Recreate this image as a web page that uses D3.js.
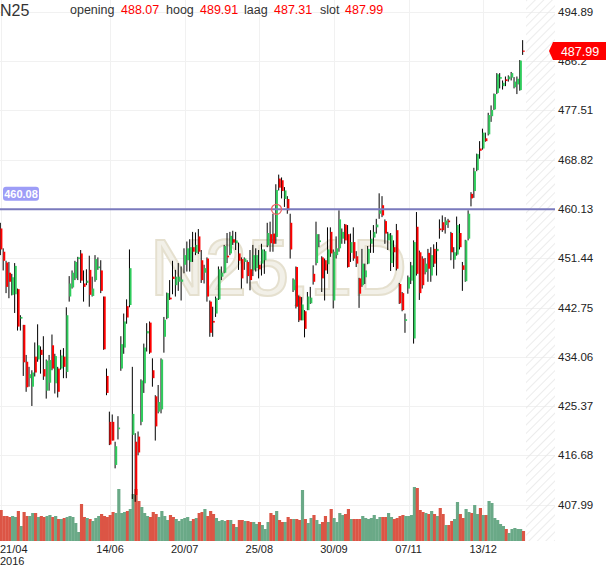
<!DOCTYPE html>
<html>
<head>
<meta charset="utf-8">
<script src="https://cdn.jsdelivr.net/npm/d3@7"></script>
<style>
  body { margin: 0; background: #fff; }
  text { font-family: "Liberation Sans", Arial, sans-serif; }
</style>
</head>
<body>
<div id="chart"></div>
<script>
// Daily candles N25, 21/04/2016 - 30/12/2016
const opens = [
  456.7,452.6,450.7,448.9,445.0,445.1,446.0,440.8,439.7,433.2,
  430.3,428.8,434.1,433.6,435.3,431.9,428.1,429.5,436.1,429.4,
  432.0,432.0,434.1,431.4,444.7,446.3,447.9,451.3,452.3,447.0,
  447.1,449.4,444.8,447.6,449.7,449.3,444.7,430.7,422.6,422.6,
  415.0,421.3,432.0,435.7,443.0,443.2,420.3,419.1,420.0,422.6,
  429.4,438.2,440.1,431.7,427.1,424.4,424.8,437.6,440.9,444.5,
  448.2,446.7,447.3,447.3,450.3,451.1,450.8,453.4,452.4,455.3,
  451.1,448.9,451.4,443.8,440.4,441.7,444.2,448.2,448.9,451.9,
  452.3,454.8,454.1,452.3,451.3,450.8,450.8,449.5,449.4,449.7,
  450.3,450.5,451.1,453.7,455.7,455.8,455.2,465.5,465.2,461.9,
  461.9,457.7,445.8,449.9,444.7,440.5,442.1,442.3,443.5,448.7,
  450.6,454.3,451.6,451.1,450.4,456.1,444.0,452.0,453.2,454.9,
  457.4,455.7,452.4,454.3,451.8,447.9,446.7,448.1,450.5,454.0,
  455.1,456.9,459.3,460.8,458.0,454.6,450.6,453.4,456.4,446.9,
  445.3,440.4,446.1,447.5,437.3,457.0,452.5,451.4,449.0,452.4,
  448.4,453.1,452.7,456.7,457.8,457.3,458.1,455.9,451.2,452.1,
  455.9,450.2,447.4,454.9,462.8,463.3,467.0,470.8,470.8,472.6,
  473.3,476.5,477.7,480.6,483.1,481.8,483.0,483.0,483.3,481.6,
  482.1,481.1,488.07
];
const highs = [
  457.7,453.2,451.0,450.8,448.7,450.6,446.1,441.4,439.7,434.4,
  432.3,431.7,436.6,439.8,435.9,437.7,433.6,434.4,438.0,434.6,
  432.3,435.3,435.6,442.8,448.3,449.3,451.0,451.7,452.9,449.3,
  449.5,451.9,448.2,452.0,451.6,451.1,444.7,432.0,424.4,423.9,
  419.1,423.6,437.7,441.7,444.2,453.0,432.3,420.6,420.9,430.1,
  436.4,440.0,440.3,433.8,427.3,429.1,433.8,441.1,445.4,447.6,
  451.0,449.4,450.6,450.0,453.2,454.4,454.8,456.1,456.0,456.6,
  452.9,450.3,451.6,444.0,442.9,444.7,450.0,450.0,453.8,455.9,
  456.1,456.3,456.1,454.2,451.6,451.6,451.1,452.9,453.8,453.2,
  452.9,454.0,453.0,457.7,457.9,459.3,464.5,466.2,465.7,464.0,
  462.4,459.3,447.9,450.0,444.9,444.6,442.3,445.5,446.4,450.2,
  457.9,455.7,451.8,451.4,456.9,456.9,453.0,455.3,459.9,456.7,
  457.5,457.3,455.8,456.9,452.7,448.0,453.1,450.5,453.6,456.4,
  457.3,458.4,462.9,462.4,458.3,456.1,455.9,454.6,457.5,447.1,
  445.5,441.7,448.4,450.8,454.6,459.6,452.8,451.8,451.5,453.1,
  453.4,453.9,454.3,458.3,459.0,458.7,458.4,456.1,453.4,458.8,
  457.5,450.8,454.7,459.9,463.1,467.4,469.9,472.1,474.3,473.6,
  477.1,478.4,480.5,484.1,484.1,482.8,483.5,483.7,484.3,483.4,
  483.5,486.4,489.91
];
const lows = [
  452.0,449.3,445.3,444.4,444.9,441.8,438.7,438.7,430.7,427.9,
  428.8,425.4,430.6,433.2,431.1,430.0,426.7,428.1,431.7,427.6,
  426.9,431.8,430.3,430.3,443.8,446.1,447.6,447.6,447.1,443.8,
  446.7,442.9,444.7,447.3,449.4,445.3,435.3,427.3,418.5,419.3,
  414.4,419.5,431.6,434.6,439.9,442.8,409.0,408.5,416.7,422.0,
  427.7,435.0,434.6,428.8,419.3,424.1,424.1,434.8,440.7,444.1,
  445.1,444.7,445.7,444.0,448.8,449.1,449.1,450.8,452.0,452.2,
  447.1,447.0,443.8,437.6,437.6,441.1,444.1,447.6,448.8,450.6,
  452.0,453.8,452.9,449.4,446.1,449.4,447.0,445.8,448.3,449.1,
  447.9,448.4,448.7,453.4,452.6,452.6,454.0,463.4,462.0,460.5,
  459.3,451.4,445.5,442.6,440.2,440.5,437.5,442.3,443.4,446.8,
  450.2,453.4,445.5,444.0,448.7,451.7,442.6,451.4,452.6,454.0,
  454.0,449.8,450.8,451.0,449.9,442.7,446.4,446.9,450.4,452.4,
  452.4,455.8,458.4,458.7,454.0,452.9,449.2,449.9,449.3,443.4,
  442.1,438.3,445.2,446.9,436.4,448.4,444.1,446.1,448.6,447.3,
  447.3,449.9,448.4,454.9,456.1,455.8,456.8,451.1,449.6,451.9,
  453.0,445.7,447.3,454.6,460.6,462.1,466.8,469.0,470.6,472.0,
  473.1,475.5,477.6,480.4,481.4,481.2,481.8,482.6,482.8,481.4,
  480.4,481.0,487.31
];
const closes = [
  453.0,451.0,446.4,447.3,448.1,450.1,439.4,441.1,433.1,428.7,
  431.0,431.3,431.3,436.1,434.4,430.6,433.4,433.5,432.0,434.2,
  427.9,434.3,432.3,441.4,447.0,448.9,450.8,451.6,447.5,446.4,
  447.5,445.0,446.1,451.3,450.0,445.7,435.4,427.7,418.6,419.3,
  418.3,421.6,436.3,440.3,441.0,449.7,424.0,409.7,417.2,429.9,
  435.7,438.6,434.8,430.3,421.8,426.1,433.6,440.6,445.3,444.2,
  447.8,448.2,448.2,447.7,452.0,453.2,453.4,452.6,453.8,452.6,
  447.6,449.7,444.7,438.3,440.1,444.4,449.5,448.9,453.6,451.6,
  455.4,454.2,454.6,451.0,447.9,451.4,448.3,447.6,452.0,452.0,
  449.5,453.0,452.7,455.9,454.1,454.0,463.5,463.9,463.3,463.4,
  459.9,453.0,447.7,442.9,440.5,443.3,439.0,444.7,444.5,447.3,
  455.7,454.6,447.9,449.3,453.0,452.3,452.6,453.2,458.3,456.1,
  454.6,449.9,454.3,451.4,450.5,445.2,450.5,449.3,453.1,454.9,
  456.1,457.4,459.9,459.0,455.8,455.8,455.5,452.5,449.6,443.5,
  442.3,440.7,448.1,450.2,454.3,448.7,445.3,446.7,450.5,449.6,
  452.0,450.5,453.1,456.4,456.4,458.1,457.8,452.5,452.5,457.3,
  453.4,449.4,454.6,459.3,462.0,466.8,469.8,470.4,473.6,472.1,
  476.7,477.6,480.4,483.9,483.4,482.4,482.7,483.5,484.1,482.6,
  483.1,486.3,487.99
];
// Volume (millions, estimated)
const volumes = [
  31,25,25,24,25,24,30,15,29,25,
  25,28,28,24,25,24,25,26,24,25,
  22,22,23,24,25,24,18,9,37,24,
  23,22,20,23,25,27,25,24,26,29,
  28,52,28,29,30,32,47,52,40,34,
  28,25,24,29,27,24,30,25,21,26,
  24,22,20,22,23,24,20,22,23,28,
  29,32,25,30,27,23,20,21,20,21,
  21,17,14,21,21,20,20,19,19,17,
  19,16,12,19,28,26,30,21,19,19,
  24,22,22,22,21,51,22,18,23,26,
  21,17,19,25,19,32,23,19,28,26,
  27,32,22,22,22,22,25,23,22,23,
  26,22,24,24,24,28,24,22,23,25,
  26,25,25,26,54,53,31,29,28,27,
  30,27,25,33,27,16,16,20,22,39,
  27,23,32,29,28,36,27,33,26,26,
  40,38,23,21,17,15,12,8,12,13,
  12,12,10
];

// Axis ticks
const dateTickIndex = [0, 38, 64, 90, 116, 142, 168];
const dateTickLabels = ["21/04", "14/06", "20/07", "25/08", "30/09", "07/11", "13/12"];
const priceTicks = [407.99, 416.68, 425.37, 434.06, 442.75, 451.44, 460.13, 468.82, 477.51, 486.2, 494.89];

// Header / annotations
const symbol = "N25";
const headerNames = ["opening", "hoog", "laag", "slot"];
const headerValues = ["488.07", "489.91", "487.31", "487.99"];
const lineLevel = 460.08;
const lineAnchorIndex = 96;
const lastPrice = 487.99;

const width = 610;
const height = 568;
const volBottom = 541;
const plotRight = 526;
const axisRight = 555;

const svg = d3.select("#chart")
    .append("svg")
    .attr("width", width)
    .attr("height", height);

// Scales
const x = d3.scaleLinear()
    .domain([0, opens.length - 1])
    .range([1, 1 + 2.87 * (opens.length - 1)]);
const step = x(1) - x(0);

const y = d3.scaleLinear()
    .domain([407.99, 494.89])
    .range([504.7, 11.9]);

const yVol = d3.scaleLinear()
    .domain([0, 60])
    .range([volBottom, volBottom - 60]);

// Hatch pattern for the empty future area
const defs = svg.append("defs");
defs.append("pattern")
    .attr("id", "hatch")
    .attr("width", 6)
    .attr("height", 6)
    .attr("patternUnits", "userSpaceOnUse")
    .attr("patternTransform", "rotate(45)")
    .append("line")
    .attr("x1", 0).attr("y1", 0)
    .attr("x2", 0).attr("y2", 6)
    .attr("stroke", "#e6e6e6")
    .attr("stroke-width", 1.5);

// Grid lines
const grid = svg.append("g").attr("class", "grid");
grid.selectAll(".hgrid")
    .data(priceTicks)
    .enter().append("line")
    .attr("x1", 0).attr("x2", axisRight)
    .attr("y1", d => Math.round(y(d)) + 0.5)
    .attr("y2", d => Math.round(y(d)) + 0.5)
    .attr("stroke", "#f1f1f1");
grid.selectAll(".vgrid")
    .data(dateTickIndex)
    .enter().append("line")
    .attr("x1", d => Math.round(x(d)) + 0.5)
    .attr("x2", d => Math.round(x(d)) + 0.5)
    .attr("y1", 0).attr("y2", volBottom)
    .attr("stroke", "#f1f1f1");

svg.append("rect")
    .attr("x", plotRight).attr("y", 0)
    .attr("width", axisRight - plotRight)
    .attr("height", volBottom)
    .attr("fill", "url(#hatch)");

// Watermark
svg.append("text")
    .attr("x", 150)
    .attr("y", 295)
    .attr("font-size", 80)
    .attr("textLength", 257)
    .attr("lengthAdjust", "spacingAndGlyphs")
    .attr("fill", "#f2f0e8")
    .attr("stroke", "#e5e0cf")
    .attr("stroke-width", 2)
    .text("N25,1D");

const candles = opens.map((o, i) => ({
    i: i, o: o, h: highs[i], l: lows[i], c: closes[i], v: volumes[i], up: closes[i] >= o
}));

// Volume bars
svg.append("g")
    .selectAll("rect")
    .data(candles)
    .enter().append("rect")
    .attr("x", d => x(d.i) - step / 2)
    .attr("width", step + 0.3)
    .attr("y", d => yVol(d.v))
    .attr("height", d => volBottom - yVol(d.v))
    .attr("fill", d => d.up ? "#6aa987" : "#dc5545");

// Candles: wick on the left edge, then body
const cg = svg.append("g");
cg.selectAll(".wick")
    .data(candles)
    .enter().append("rect")
    .attr("x", d => x(d.i) - 1.2)
    .attr("width", 1)
    .attr("y", d => y(d.h))
    .attr("height", d => Math.max(1, y(d.l) - y(d.h)))
    .attr("fill", "#000");
cg.selectAll(".body")
    .data(candles)
    .enter().append("rect")
    .attr("x", d => x(d.i) - 0.6)
    .attr("width", 2)
    .attr("y", d => y(Math.max(d.o, d.c)))
    .attr("height", d => Math.max(1.2, Math.abs(y(d.o) - y(d.c))))
    .attr("fill", d => d.up ? "#2fcc5c" : "#ff0000");

// Horizontal level line with anchor
svg.append("line")
    .attr("x1", 0).attr("x2", axisRight)
    .attr("y1", y(lineLevel)).attr("y2", y(lineLevel))
    .attr("stroke", "#7a7abd")
    .attr("stroke-width", 2);
svg.append("circle")
    .attr("cx", x(lineAnchorIndex))
    .attr("cy", y(lineLevel))
    .attr("r", 5)
    .attr("fill", "none")
    .attr("stroke", "#ee6060")
    .attr("stroke-width", 1.2);

svg.append("rect")
    .attr("x", 3).attr("y", y(lineLevel) - 22.5)
    .attr("width", 36).attr("height", 14)
    .attr("rx", 3)
    .attr("fill", "#9d9df7");
svg.append("text")
    .attr("x", 21).attr("y", y(lineLevel) - 11.5)
    .attr("text-anchor", "middle")
    .attr("font-size", 11)
    .attr("font-weight", "bold")
    .attr("fill", "#fff")
    .text(lineLevel.toFixed(2));

// Right price axis (the label under the last-price marker stays, partly covered)
svg.append("g")
    .selectAll("text")
    .data(priceTicks)
    .enter().append("text")
    .attr("x", 558)
    .attr("y", d => y(d) + 4)
    .attr("font-size", 11.5)
    .attr("fill", "#222")
    .text(d => d);

// Last price marker
const ly = y(lastPrice);
svg.append("path")
    .attr("d", `M549,${ly} L553,${ly - 9} L606,${ly - 9} L606,${ly + 9} L553,${ly + 9} Z`)
    .attr("fill", "#ff0000");
svg.append("text")
    .attr("x", 580).attr("y", ly + 4.5)
    .attr("text-anchor", "middle")
    .attr("font-size", 12.5)
    .attr("fill", "#fff")
    .text(lastPrice.toFixed(2));

// Date axis
svg.append("g")
    .selectAll("text")
    .data(dateTickIndex)
    .enter().append("text")
    .attr("x", (d, k) => k === 0 ? 0 : x(d))
    .attr("y", 553)
    .attr("text-anchor", (d, k) => k === 0 ? "start" : "middle")
    .attr("font-size", 11)
    .attr("fill", "#222")
    .text((d, k) => dateTickLabels[k]);
svg.append("text")
    .attr("x", 0).attr("y", 565)
    .attr("font-size", 11)
    .attr("fill", "#222")
    .text("2016");

// Header
svg.append("text")
    .attr("x", 0).attr("y", 16)
    .attr("font-size", 16)
    .attr("fill", "#333")
    .text(symbol);
const headerX = [70, 166, 244, 320];
const valueX = [121, 200, 274, 345];
headerNames.forEach((name, k) => {
    svg.append("text")
        .attr("x", headerX[k]).attr("y", 14)
        .attr("font-size", 12.5)
        .attr("fill", "#333")
        .text(name);
    svg.append("text")
        .attr("x", valueX[k]).attr("y", 14)
        .attr("font-size", 12.5)
        .attr("fill", "#ff0000")
        .text(headerValues[k]);
});
</script>
</body>
</html>
